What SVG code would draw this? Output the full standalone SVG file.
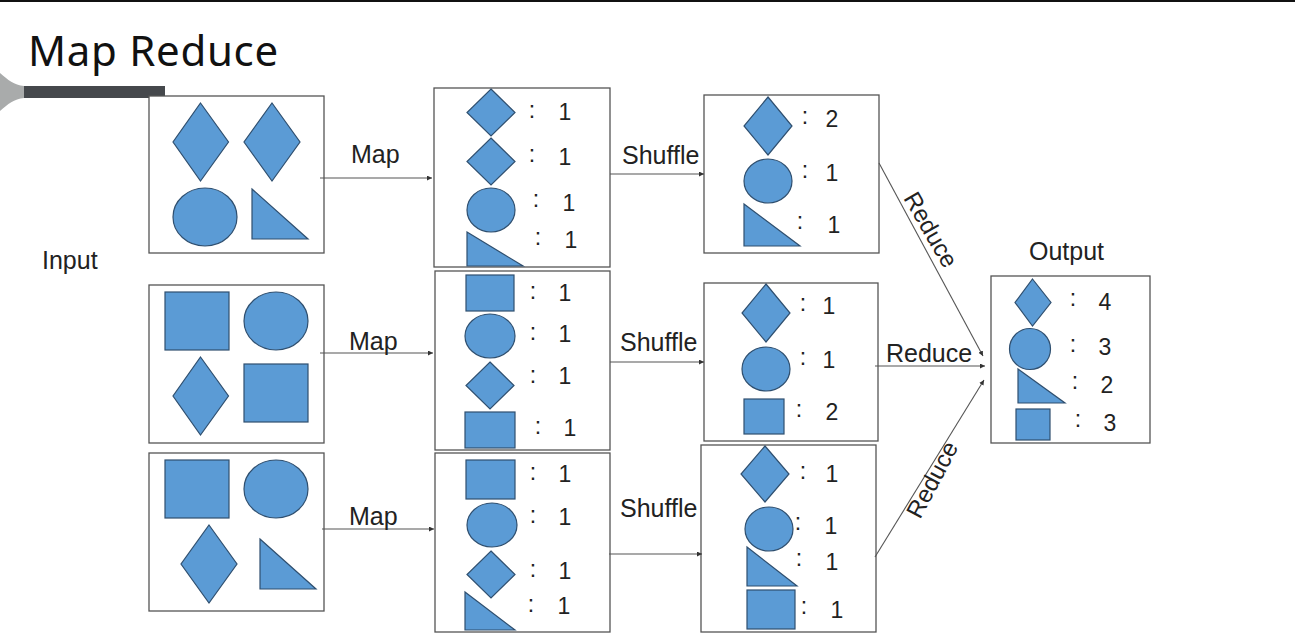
<svg xmlns="http://www.w3.org/2000/svg" width="1295" height="634" viewBox="0 0 1295 634">
<style>
.box{fill:#fff;stroke:#555;stroke-width:1.3}
.s{fill:#5b9bd5;stroke:#2f4f6f;stroke-width:1.2}
text{font-family:"Liberation Sans",Arial,sans-serif;fill:#222}
.t{font-size:25px}
.r{font-size:24px}
.n{font-size:23px;text-anchor:middle}
.c{fill:none;stroke:#555;stroke-width:1.1}
</style>
<defs>
<marker id="a" markerWidth="6" markerHeight="6" refX="5" refY="2.5" orient="auto" markerUnits="userSpaceOnUse"><path d="M0 0L5 2.5L0 5z" fill="#333"/></marker>
</defs>
<rect x="0" y="0" width="1295" height="634" fill="#fff"/>
<rect x="0" y="0" width="1295" height="2" fill="#111"/>
<path d="M0 73C8 80 14 85 24 86L24 98C14 99 8 104 0 111z" fill="#a9abab"/>
<rect x="24" y="86" width="141" height="12" fill="#45484c"/>
<text x="28" y="66" style="font-family:'Noto Sans','Open Sans',sans-serif;font-size:42px;letter-spacing:.7px;fill:#111">Map Reduce</text>
<text x="42" y="269" class="t">Input</text>
<text x="1029" y="260" class="t">Output</text>

<g id="input1"><rect class="box" x="149" y="96" width="175" height="157"/>
<polygon class="s" points="200.500,103 228.500,142 200.500,181 173,142"/>
<polygon class="s" points="272,103 300,142 272,181 244,142"/>
<ellipse class="s" cx="205" cy="217" rx="32" ry="29"/>
<polygon class="s" points="252,189 308,239 252,239"/></g>

<g id="input2"><rect class="box" x="149" y="285" width="175" height="158"/>
<rect class="s" x="165" y="292" width="64" height="58"/>
<ellipse class="s" cx="276" cy="321" rx="32" ry="29"/>
<polygon class="s" points="200.500,357 228.500,396 200.500,435 173,396"/>
<rect class="s" x="244" y="364" width="64" height="58"/></g>

<g id="input3"><rect class="box" x="149" y="453" width="175" height="158"/>
<rect class="s" x="165" y="460" width="64" height="58"/>
<ellipse class="s" cx="276" cy="489" rx="32" ry="29"/>
<polygon class="s" points="209,525 237,564 209,603 181,564"/>
<polygon class="s" points="260,539 316,589 260,589"/></g>

<g id="map1"><rect class="box" x="434" y="88" width="176" height="179"/>
<polygon class="s" points="491,89 515,112.500 491,136 467,112.500"/>
<polygon class="s" points="491,138 515,161.500 491,185 467,161.500"/>
<ellipse class="s" cx="491" cy="210" rx="24" ry="22"/>
<polygon class="s" points="467,232 523,266 467,266"/>
<text class="n" x="532" y="118">:</text><text class="n" x="565" y="120">1</text>
<text class="n" x="532" y="162">:</text><text class="n" x="565" y="165">1</text>
<text class="n" x="536" y="207">:</text><text class="n" x="569" y="211">1</text>
<text class="n" x="538" y="245">:</text><text class="n" x="571" y="248">1</text></g>

<g id="map2"><rect class="box" x="435" y="271" width="175" height="179"/>
<rect class="s" x="466" y="275" width="48" height="36"/>
<ellipse class="s" cx="490" cy="336" rx="25" ry="22"/>
<polygon class="s" points="490,362 514,385.500 490,409 466,385.500"/>
<rect class="s" x="465" y="412" width="50" height="36"/>
<text class="n" x="533" y="299">:</text><text class="n" x="565" y="301">1</text>
<text class="n" x="533" y="340">:</text><text class="n" x="565" y="342">1</text>
<text class="n" x="533" y="383">:</text><text class="n" x="565" y="384">1</text>
<text class="n" x="538" y="434">:</text><text class="n" x="570" y="436">1</text></g>

<g id="map3"><rect class="box" x="435" y="453" width="175" height="179"/>
<rect class="s" x="466" y="460" width="49" height="39"/>
<ellipse class="s" cx="492" cy="525" rx="25" ry="22"/>
<polygon class="s" points="491,551 515,574.500 491,598 467,574.500"/>
<polygon class="s" points="465,592 515,630 465,630"/>
<text class="n" x="533" y="480">:</text><text class="n" x="565" y="482">1</text>
<text class="n" x="533" y="523">:</text><text class="n" x="565" y="525">1</text>
<text class="n" x="533" y="577">:</text><text class="n" x="565" y="579">1</text>
<text class="n" x="531" y="612">:</text><text class="n" x="564" y="614">1</text></g>

<g id="shuffle1"><rect class="box" x="704" y="95" width="175" height="158"/>
<polygon class="s" points="768,97 792,126 768,155 744,126"/>
<ellipse class="s" cx="768" cy="181" rx="24" ry="22"/>
<polygon class="s" points="744,204 800,246 744,246"/>
<text class="n" x="805" y="124">:</text><text class="n" x="832" y="127">2</text>
<text class="n" x="805" y="178">:</text><text class="n" x="832" y="181">1</text>
<text class="n" x="800" y="229">:</text><text class="n" x="834" y="233">1</text></g>

<g id="shuffle2"><rect class="box" x="704" y="283" width="174" height="158"/>
<polygon class="s" points="766,284 790,313 766,342 742,313"/>
<ellipse class="s" cx="766" cy="369" rx="24" ry="22"/>
<rect class="s" x="744" y="399" width="40" height="35"/>
<text class="n" x="803" y="311">:</text><text class="n" x="829" y="314">1</text>
<text class="n" x="803" y="365">:</text><text class="n" x="829" y="368">1</text>
<text class="n" x="799" y="417">:</text><text class="n" x="832" y="420">2</text></g>

<g id="shuffle3"><rect class="box" x="701" y="445" width="175" height="187"/>
<polygon class="s" points="765,446 789,474 765,502 741,474"/>
<ellipse class="s" cx="769" cy="529" rx="24" ry="22"/>
<polygon class="s" points="747,547 797,586 747,586"/>
<rect class="s" x="747" y="590" width="48" height="39"/>
<text class="n" x="803" y="479">:</text><text class="n" x="832" y="482">1</text>
<text class="n" x="798" y="530">:</text><text class="n" x="831" y="534">1</text>
<text class="n" x="799" y="566">:</text><text class="n" x="832" y="570">1</text>
<text class="n" x="804" y="614">:</text><text class="n" x="837" y="618">1</text></g>

<g id="output"><rect class="box" x="991" y="276" width="159" height="167"/>
<polygon class="s" points="1032.500,279 1051,302.500 1032.500,326 1015,302.500"/>
<circle class="s" cx="1030" cy="349" r="20.500"/>
<polygon class="s" points="1018,369 1065,403 1018,403"/>
<rect class="s" x="1016" y="409" width="34" height="31"/>
<text class="n" x="1073" y="306">:</text><text class="n" x="1105" y="310">4</text>
<text class="n" x="1073" y="352">:</text><text class="n" x="1105" y="355">3</text>
<text class="n" x="1075" y="389">:</text><text class="n" x="1107" y="393">2</text>
<text class="n" x="1078" y="427">:</text><text class="n" x="1110" y="431">3</text></g>

<g id="connectors">
<path class="c" marker-end="url(#a)" d="M320 178H432"/>
<path class="c" marker-end="url(#a)" d="M320 353H433"/>
<path class="c" marker-end="url(#a)" d="M322 529H434"/>
<path class="c" marker-end="url(#a)" d="M610 174H704"/>
<path class="c" marker-end="url(#a)" d="M610 362H704"/>
<path class="c" marker-end="url(#a)" d="M609 554H702"/>
<path class="c" marker-end="url(#a)" d="M879 163L983 356"/>
<path class="c" marker-end="url(#a)" d="M875 366H985"/>
<path class="c" marker-end="url(#a)" d="M875 557L984 380"/>
</g>
<g id="labels">
<text x="351" y="163" class="t">Map</text>
<text x="349" y="350" class="t">Map</text>
<text x="349" y="525" class="t">Map</text>
<text x="622" y="164" class="t">Shuffle</text>
<text x="620" y="351" class="t">Shuffle</text>
<text x="620" y="517" class="t">Shuffle</text>
<text x="886" y="362" class="t">Reduce</text>
<text class="r" transform="translate(903 198) rotate(60)">Reduce</text>
<text class="r" transform="translate(920 520) rotate(-62)">Reduce</text>
</g>
</svg>
